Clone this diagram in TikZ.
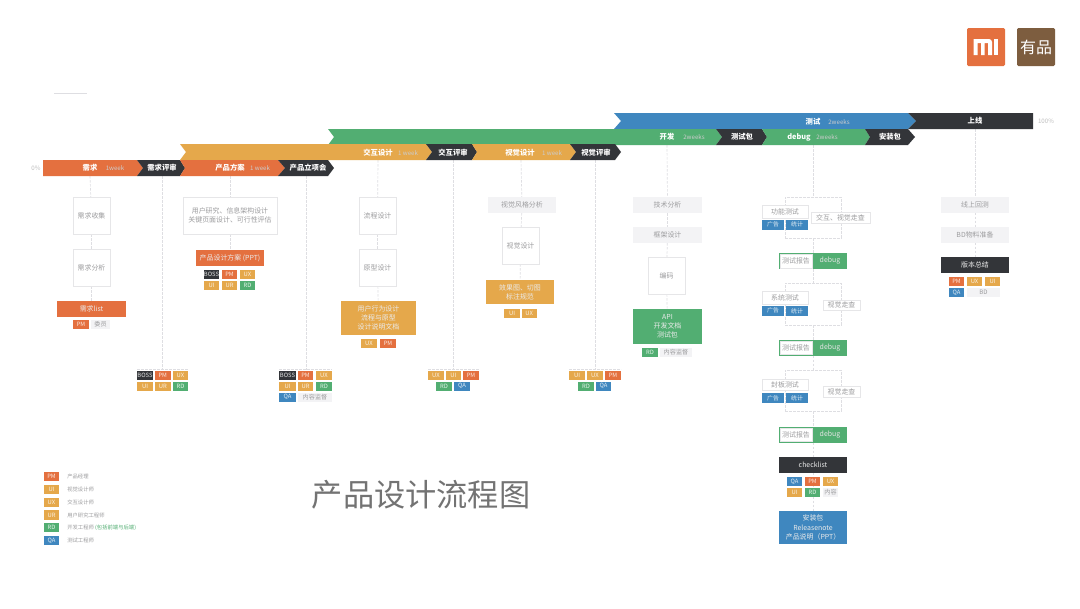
\documentclass[tikz,border=0pt]{standalone}
\usepackage{fontspec}
\setmainfont{Noto Sans CJK SC}
\usetikzlibrary{backgrounds}
\definecolor{cOr}{HTML}{E4703F}
\definecolor{cYe}{HTML}{E5A84B}
\definecolor{cGr}{HTML}{52AE72}
\definecolor{cBl}{HTML}{3F87BF}
\definecolor{cDk}{HTML}{333539}
\definecolor{cPale}{HTML}{F3F3F5}
\definecolor{cEdge}{HTML}{E6E6E8}
\definecolor{cTxt}{HTML}{9C9C9E}
\definecolor{cLine}{HTML}{DEDEE2}
\definecolor{cBrown}{HTML}{7D5D3F}
\newcounter{tgc}
\tikzset{
  base/.style={inner sep=0pt,outer sep=0pt,align=center,font=\fontsize{5.2}{6.9}\selectfont,line width=0.6pt},
  wbox/.style={base,draw=cEdge,fill=white,text=cTxt},
  pale/.style={base,fill=cPale,text=cTxt},
  solid box/.style={base,fill=#1,text=white!92!black},
  dbox/.style={base,draw=cLine,line width=0.5pt,dash pattern=on 2pt off 1pt},
  tagfill/.style={base,fill=#1,text=white!85!#1,font=\fontsize{4.4}{5}\selectfont},
  paletag/.style={base,fill=cPale,text=cTxt,font=\fontsize{4.6}{5}\selectfont},
  conn/.style={draw=cLine,line width=0.5pt,dash pattern=on 2pt off 1pt},
  headlab/.style={text=white,font=\bfseries\fontsize{5.5}{7}\selectfont,inner sep=0pt},
  weeklab/.style={text=white!80!black,font=\fontsize{4.6}{6}\selectfont,inner sep=0pt},
  pct/.style={text=black!25,font=\fontsize{4.6}{6}\selectfont,inner sep=0pt},
  legtxt/.style={text=cTxt,font=\fontsize{4}{5}\selectfont,inner sep=0pt,anchor=west},
  dbg/.style={text=white!90!black,font=\fontsize{5.2}{7}\selectfont,inner sep=0pt},
}
% style, name, x1, y1, x2, y2, text
\newcommand{\bx}[7]{%
  \pgfmathsetmacro{\bw}{(#5-#3)*0.75}\pgfmathsetmacro{\bh}{(#6-#4)*0.75}%
  \node[#1,minimum width=\bw pt,minimum height=\bh pt] (#2) at ({(#3+#5)/2},{(#4+#6)/2}) {#7};}
% colour, x1, y1, x2, y2, text (auto-named small tag)
\newcommand{\tg}[6]{\stepcounter{tgc}\bx{tagfill=#1}{tg\thetgc}{#2}{#3}{#4}{#5}{#6}}
\newcommand{\ptg}[5]{\stepcounter{tgc}\bx{paletag}{tg\thetgc}{#1}{#2}{#3}{#4}{#5}}
% colour, xl, notch, xr, tip, ytop
\newcommand{\ribbon}[6]{\fill[#1] (#2,#6) -- (#4,#6) -- (#5,#6+8) -- (#4,#6+16) -- (#2,#6+16) -- (#3,#6+8) -- cycle;}
\begin{document}
\begin{tikzpicture}[x=0.75pt,y=-0.75pt]
\useasboundingbox (0,0) rectangle (1080,608);
\draw[cLine,line width=0.5pt] (54,93) -- (87,93);
% logos
\fill[cOr,rounded corners=1pt] (967,28) rectangle (1005,66);
\fill[white] (973.5,39) -- (989,39) to[out=0,in=90] (992,42) -- (992,55) -- (988,55) -- (988,43) -- (984.5,43) -- (984.5,55) -- (981,55) -- (981,43) -- (977.5,43) -- (977.5,55) -- (973.5,55) -- cycle;
\fill[white] (994,39) rectangle (998,55);
\fill[cBrown,rounded corners=1pt] (1017,28) rectangle (1055,66);
\node[text=white,font=\fontsize{12}{12}\selectfont,inner sep=0pt] (logob) at (1036,47) {有品};
% ribbons, top rows first so lower rows overlap
\ribbon{cBl}{614}{621}{908}{916}{113}
\fill[cDk] (908,113) -- (1033,113) -- (1033,129) -- (908,129) -- (916,121) -- cycle;
\ribbon{cGr}{328}{334}{716}{722}{129}
\ribbon{cDk}{716}{722}{762}{767}{129}
\ribbon{cGr}{762}{767}{865}{870}{129}
\ribbon{cDk}{865}{870}{908}{915}{129}
\ribbon{cYe}{180}{186}{426}{432}{144}
\ribbon{cDk}{426}{432}{472}{477}{144}
\ribbon{cYe}{472}{477}{570}{576}{144}
\ribbon{cDk}{570}{576}{615}{621}{144}
\ribbon{cOr}{43}{43}{137}{143}{160}
\ribbon{cDk}{137}{143}{180}{185}{160}
\ribbon{cOr}{180}{185}{278}{285}{160}
\ribbon{cDk}{278}{285}{328}{334}{160}
% ribbon labels
\node[pct] (p0) at (36,168) {0\%};
\node[headlab] (h1) at (90,168) {需求};
\node[weeklab] (w1) at (115,168) {1week};
\node[headlab] (h2) at (162,168) {需求评审};
\node[headlab] (h3) at (230,168) {产品方案};
\node[weeklab] (w3) at (260,168) {1 week};
\node[headlab] (h4) at (308,168) {产品立项会};
\node[headlab] (h5) at (378,153) {交互设计};
\node[weeklab] (w5) at (408,153) {1 week};
\node[headlab] (h6) at (453,153) {交互评审};
\node[headlab] (h7) at (520,153) {视觉设计};
\node[weeklab] (w7) at (552,153) {1 week};
\node[headlab] (h8) at (596,153) {视觉评审};
\node[headlab] (h9) at (667,137) {开发};
\node[weeklab] (w9) at (694,137) {2weeks};
\node[headlab] (h10) at (742,137) {测试包};
\node[headlab] (h11) at (799,137) {debug};
\node[weeklab] (w11) at (827,137) {2weeks};
\node[headlab] (h12) at (890,137) {安装包};
\node[headlab] (h13) at (813,122) {测试};
\node[weeklab] (w13) at (839,122) {2weeks};
\node[headlab] (h14) at (975,121) {上线};
\node[pct] (p100) at (1046,121) {100\%};
% column 1
\coordinate (s1) at (90,176);
\bx{wbox}{a1}{73}{197}{110}{234}{需求收集}
\bx{wbox}{a2}{73}{249}{110}{286}{需求分析}
\bx{solid box=cOr}{a3}{57}{301}{126}{317}{需求list}
\tg{cOr}{73}{320}{89}{329}{PM}
\ptg{91}{320}{110}{329}{委员}
% column 2
\coordinate (s2) at (162,176);
\coordinate (e2) at (162,370);
\coordinate (u2) at (137,369.5);
\coordinate (v2) at (188,369.5);
\tg{cDk}{137}{371}{153}{380}{BOSS}
\tg{cOr}{154.5}{371}{171}{380}{PM}
\tg{cYe}{173}{371}{188}{380}{UX}
\tg{cYe}{137}{382}{153}{390.5}{UI}
\tg{cYe}{154.5}{382}{171}{390.5}{UR}
\tg{cGr}{173}{382}{188}{390.5}{RD}
% column 3
\coordinate (s3) at (230,176);
\bx{wbox}{b1}{183}{197}{277}{234}{用户研究、信息架构设计\\关键页面设计、可行性评估}
\bx{solid box=cOr}{b2}{196}{250}{264}{266}{产品设计方案 (PPT)}
\tg{cDk}{204}{270}{219}{279}{BOSS}
\tg{cOr}{222}{270}{237}{279}{PM}
\tg{cYe}{240}{270}{255}{279}{UX}
\tg{cYe}{204}{281}{219}{290}{UI}
\tg{cYe}{222}{281}{237}{290}{UR}
\tg{cGr}{240}{281}{255}{290}{RD}
% column 4
\coordinate (s4) at (306,176);
\coordinate (e4) at (306,370);
\coordinate (u4) at (279,369.5);
\coordinate (v4) at (332,369.5);
\tg{cDk}{279}{371}{296}{380}{BOSS}
\tg{cOr}{298}{371}{313}{380}{PM}
\tg{cYe}{316}{371}{332}{380}{UX}
\tg{cYe}{279}{382}{296}{390.5}{UI}
\tg{cYe}{298}{382}{313}{390.5}{UR}
\tg{cGr}{316}{382}{332}{390.5}{RD}
\tg{cBl}{279}{393}{296}{401.5}{QA}
\ptg{298}{393}{332}{401.5}{内容监督}
% column 5
\coordinate (s5) at (378,160);
\bx{wbox}{c1}{359}{197}{396}{234}{流程设计}
\bx{wbox}{c2}{359}{249}{396}{286}{原型设计}
\bx{solid box=cYe}{c3}{341}{301}{416}{335}{用户行为设计\\流程与原型\\设计说明文档}
\tg{cYe}{361}{339}{377}{348}{UX}
\tg{cOr}{380}{339}{396}{348}{PM}
% column 6
\coordinate (s6) at (453,160);
\coordinate (e6) at (453,370);
\coordinate (u6) at (428,369.5);
\coordinate (v6) at (479,369.5);
\tg{cYe}{428}{371}{444}{380}{UX}
\tg{cYe}{445.5}{371}{461}{380}{UI}
\tg{cOr}{463}{371}{479}{380}{PM}
\tg{cGr}{436}{382}{452}{390.5}{RD}
\tg{cBl}{454}{382}{470}{390.5}{QA}
% column 7
\coordinate (s7) at (521,160);
\bx{pale}{d1}{488}{197}{556}{213}{视觉风格分析}
\bx{wbox}{d2}{502}{227}{539}{264}{视觉设计}
\bx{solid box=cYe}{d3}{486}{280}{554}{304}{效果图、切图\\标注规范}
\tg{cYe}{504}{309}{520}{318}{UI}
\tg{cYe}{521.5}{309}{537}{318}{UX}
% column 8
\coordinate (s8) at (595,160);
\coordinate (e8) at (595,370);
\coordinate (u8) at (569,369.5);
\coordinate (v8) at (621,369.5);
\tg{cYe}{569}{371}{585}{380}{UI}
\tg{cYe}{587}{371}{603}{380}{UX}
\tg{cOr}{605}{371}{621}{380}{PM}
\tg{cGr}{578}{382}{594}{390.5}{RD}
\tg{cBl}{596}{382}{611}{390.5}{QA}
% column 9
\coordinate (s9) at (667,145);
\bx{pale}{f1}{633}{197}{702}{213}{技术分析}
\bx{pale}{f2}{633}{227}{702}{243}{框架设计}
\bx{wbox}{f3}{648}{257}{685}{294}{编码}
\bx{solid box=cGr}{f4}{633}{309}{702}{344}{API\\开发文档\\测试包}
\tg{cGr}{642}{348}{658}{357}{RD}
\ptg{660}{348}{692}{357}{内容监督}
% column 10
\coordinate (s10) at (813,145);
\bx{dbox}{g1}{785}{197}{841}{238}{}
\bx{wbox}{g1a}{762}{205}{808}{218}{功能测试}
\tg{cBl}{762}{220}{784}{229.5}{广告}
\tg{cBl}{786}{220}{808}{229.5}{统计}
\bx{wbox}{g1b}{811}{212}{870}{223}{交互、视觉走查}
\bx{solid box=cGr}{g2}{779}{253}{847}{269}{}
\bx{wbox}{g2a}{780}{254}{812}{268}{测试报告}
\node[dbg] (g2b) at (830,261) {debug};
\bx{dbox}{g3}{785}{283}{841}{325}{}
\bx{wbox}{g3a}{762}{291}{808}{304}{系统测试}
\tg{cBl}{762}{306}{784}{315.5}{广告}
\tg{cBl}{786}{306}{808}{315.5}{统计}
\bx{wbox}{g3b}{823}{300}{860}{310}{视觉走查}
\bx{solid box=cGr}{g4}{779}{340}{847}{355.5}{}
\bx{wbox}{g4a}{780}{341}{812}{354.5}{测试报告}
\node[dbg] (g4b) at (830,348) {debug};
\bx{dbox}{g5}{785}{370}{841}{411}{}
\bx{wbox}{g5a}{762}{379}{808}{390}{封板测试}
\tg{cBl}{762}{393}{784}{403}{广告}
\tg{cBl}{786}{393}{808}{403}{统计}
\bx{wbox}{g5b}{823}{386}{860}{397}{视觉走查}
\bx{solid box=cGr}{g6}{779}{427}{847}{442.5}{}
\bx{wbox}{g6a}{780}{428}{812}{441.5}{测试报告}
\node[dbg] (g6b) at (830,435) {debug};
\bx{solid box=cDk}{g7}{779}{457}{847}{472.5}{checklist}
\tg{cBl}{787}{477}{802}{486}{QA}
\tg{cOr}{805}{477}{820}{486}{PM}
\tg{cYe}{823}{477}{838}{486}{UX}
\tg{cYe}{787}{488}{802}{497}{UI}
\tg{cGr}{805}{488}{820}{497}{RD}
\ptg{823}{488}{838}{497}{内容}
\bx{solid box=cBl}{g8}{779}{511}{847}{544}{安装包\\Releasenote\\产品说明（PPT）}
% column 11
\coordinate (s11) at (975,129);
\bx{pale}{k1}{941}{197}{1009}{212.5}{线上回测}
\bx{pale}{k2}{941}{227}{1009}{242.5}{BD物料准备}
\bx{solid box=cDk}{k3}{941}{257}{1009}{272.5}{版本总结}
\tg{cOr}{949}{277}{964}{286}{PM}
\tg{cYe}{967}{277}{982}{286}{UX}
\tg{cYe}{985}{277}{1000}{286}{UI}
\tg{cBl}{949}{288}{964}{297}{QA}
\ptg{967}{288}{1000}{297}{BD}
% legend
\tg{cOr}{44}{472}{59}{481}{PM}
\node[legtxt] (l1) at (67,476.5) {产品经理};
\tg{cYe}{44}{485}{59}{494}{UI}
\node[legtxt] (l2) at (67,489.5) {视觉设计师};
\tg{cYe}{44}{498}{59}{507}{UX}
\node[legtxt] (l3) at (67,502.5) {交互设计师};
\tg{cYe}{44}{510}{59}{520}{UR}
\node[legtxt] (l4) at (67,515) {用户研究工程师};
\tg{cGr}{44}{523}{59}{532}{RD}
\node[legtxt] (l5) at (67,527.5) {开发工程师 \textcolor{cGr}{(包括前端与后端)}};
\tg{cBl}{44}{536}{59}{545}{QA}
\node[legtxt] (l6) at (67,540.5) {测试工程师};
% title
\node[text=black!55,font=\fontsize{23.4}{26}\selectfont,inner sep=0pt] (title) at (421,495) {产品设计流程图};
% connectors and page ground go underneath
\begin{pgfonlayer}{background}
\fill[white] (0,0) rectangle (1080,608);
\draw[conn] (s1) -- (a1);
\draw[conn] (a1) -- (a2);
\draw[conn] (a2) -- (a3);
\draw[conn] (s2) -- (e2);
\draw[conn] (u2) -- (v2);
\draw[conn] (s3) -- (b1);
\draw[conn] (b1) -- (b2);
\draw[conn] (s4) -- (e4);
\draw[conn] (u4) -- (v4);
\draw[conn] (s5) -- (c1);
\draw[conn] (c1) -- (c2);
\draw[conn] (c2) -- (c3);
\draw[conn] (s6) -- (e6);
\draw[conn] (u6) -- (v6);
\draw[conn] (s7) -- (d1);
\draw[conn] (d1) -- (d2);
\draw[conn] (d2) -- (d3);
\draw[conn] (s8) -- (e8);
\draw[conn] (u8) -- (v8);
\draw[conn] (s9) -- (f1);
\draw[conn] (f1) -- (f2);
\draw[conn] (f2) -- (f3);
\draw[conn] (f3) -- (f4);
\draw[conn] (s10) -- (g1);
\draw[conn] (g1) -- (g2);
\draw[conn] (g2) -- (g3);
\draw[conn] (g3) -- (g4);
\draw[conn] (g4) -- (g5);
\draw[conn] (g5) -- (g6);
\draw[conn] (g6) -- (g7);
\draw[conn] (g7) -- (g8);
\draw[conn] (s11) -- (k1);
\draw[conn] (k1) -- (k2);
\draw[conn] (k2) -- (k3);
\end{pgfonlayer}
\end{tikzpicture}
\end{document}
